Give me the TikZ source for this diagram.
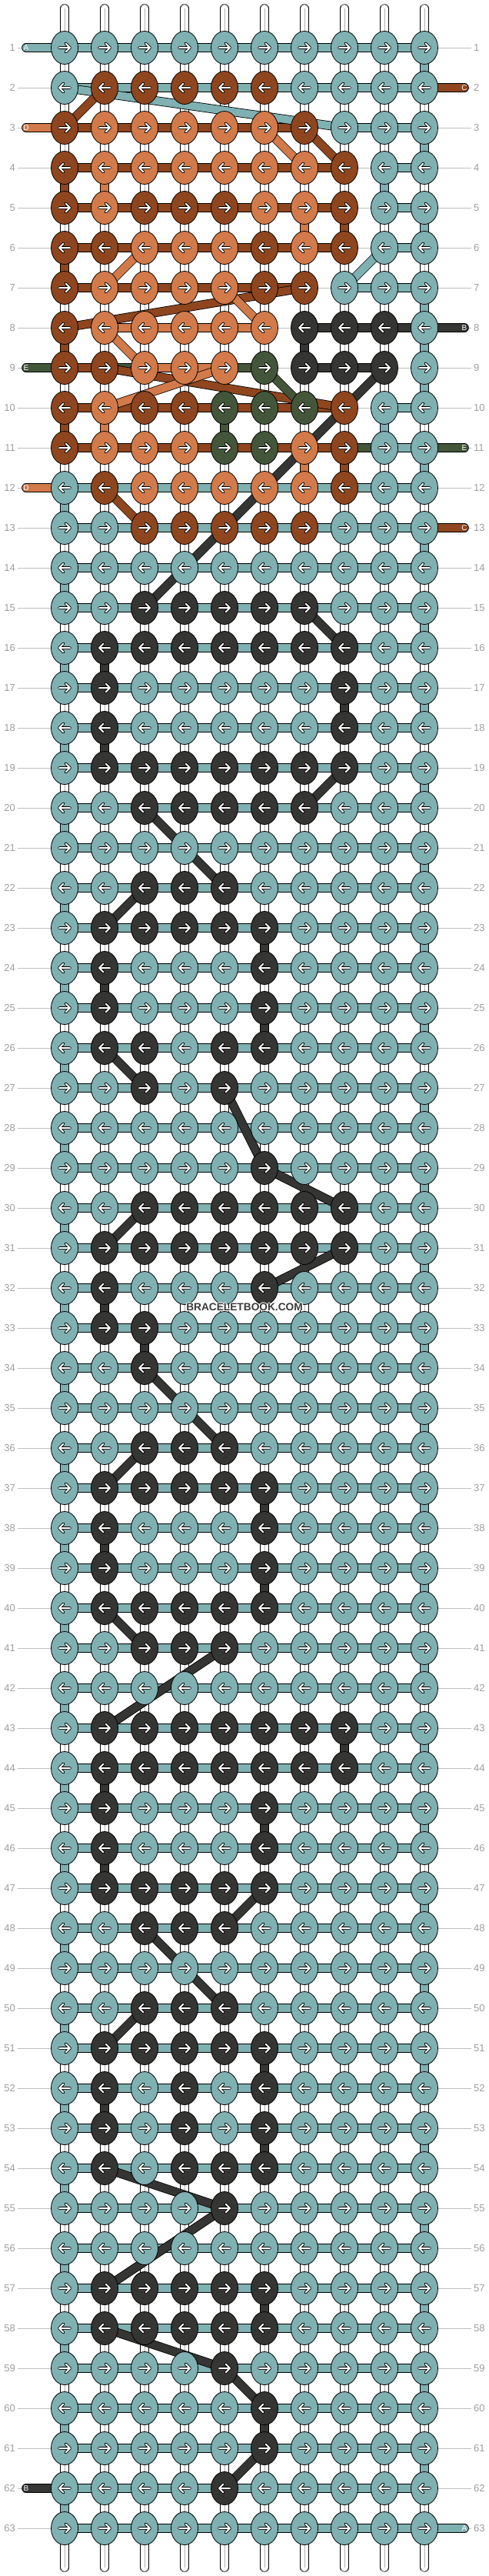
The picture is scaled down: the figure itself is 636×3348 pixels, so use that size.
\documentclass[tikz,border=0pt]{standalone}
\usepackage{fontspec}
\setmainfont{Liberation Sans}
\usetikzlibrary{shapes.geometric}
\pgfdeclarelayer{bg}
\pgfsetlayers{bg,main}
\definecolor{cT}{HTML}{7FB0B2}
\definecolor{cB}{HTML}{8F461F}
\definecolor{cO}{HTML}{D37A4A}
\definecolor{cK}{HTML}{353533}
\definecolor{cG}{HTML}{44563A}
\definecolor{wmc}{HTML}{3A3A3A}
\newcommand\wmhalo[1]{%
\makebox[0pt]{\hspace*{2.4pt}\textcolor{white}{#1}}%
\makebox[0pt]{\hspace*{-2.4pt}\textcolor{white}{#1}}%
\makebox[0pt]{\raisebox{1.2pt}{\textcolor{white}{#1}}}%
\makebox[0pt]{\raisebox{-1.2pt}{\textcolor{white}{#1}}}%
\makebox[0pt]{#1}}
\begin{document}
\begin{tikzpicture}[x=1pt,y=-1pt,
  knot/.style={ellipse, draw=black, line width=0.8pt, minimum width=35pt, minimum height=43pt, inner sep=0pt},
  thr/.style={draw=black, line width=0.8pt, double=#1, double distance=10pt},
  warp/.style={draw=black, line width=0.7pt, double=white, double distance=10pt},
  warpmid/.style={draw=black!30, line width=0.6pt},
  rowline/.style={draw=black!25, line width=0.8pt},
  lbl/.style={text=black!38, font=\fontsize{13}{13}\selectfont, inner sep=3pt},
  stublbl/.style={text=white, font=\fontsize{10}{10}\selectfont, inner sep=0pt},
  arw/.style={draw=black, line width=3.8pt, line cap=round, line join=round},
  arwin/.style={draw=white, line width=2pt, line cap=round, line join=round}]
\useasboundingbox (0,0) rectangle (636,3348);
% knots
\foreach \r/\row in {
1/{T,T,T,T,T,T,T,T,T,T},
2/{T,B,B,B,B,B,T,T,T,T},
3/{B,O,O,O,O,O,B,T,T,T},
4/{B,O,O,O,O,O,O,B,T,T},
5/{B,O,B,B,B,O,O,B,T,T},
6/{B,B,O,O,O,B,O,B,T,T},
7/{B,O,O,O,O,B,B,T,T,T},
8/{B,O,O,O,O,O,K,K,K,T},
9/{B,B,O,O,O,G,K,K,K,T},
10/{B,O,B,B,G,G,G,B,T,T},
11/{B,O,O,O,G,G,O,B,T,T},
12/{T,B,O,O,O,O,O,B,T,T},
13/{T,T,B,B,B,B,B,T,T,T},
14/{T,T,T,T,T,T,T,T,T,T},
15/{T,T,K,K,K,K,K,T,T,T},
16/{T,K,K,K,K,K,K,K,T,T},
17/{T,K,T,T,T,T,T,K,T,T},
18/{T,K,T,T,T,T,T,K,T,T},
19/{T,K,K,K,K,K,K,K,T,T},
20/{T,T,K,K,K,K,K,T,T,T},
21/{T,T,T,T,T,T,T,T,T,T},
22/{T,T,K,K,K,T,T,T,T,T},
23/{T,K,K,K,K,K,T,T,T,T},
24/{T,K,T,T,T,K,T,T,T,T},
25/{T,K,T,T,T,K,T,T,T,T},
26/{T,K,K,T,K,K,T,T,T,T},
27/{T,T,K,T,K,T,T,T,T,T},
28/{T,T,T,T,T,T,T,T,T,T},
29/{T,T,T,T,T,K,T,T,T,T},
30/{T,T,K,K,K,K,K,K,T,T},
31/{T,K,K,K,K,K,K,K,T,T},
32/{T,K,T,T,T,K,T,T,T,T},
33/{T,K,K,T,T,T,T,T,T,T},
34/{T,T,K,T,T,T,T,T,T,T},
35/{T,T,T,T,T,T,T,T,T,T},
36/{T,T,K,K,K,T,T,T,T,T},
37/{T,K,K,K,K,K,T,T,T,T},
38/{T,K,T,T,T,K,T,T,T,T},
39/{T,K,T,T,T,K,T,T,T,T},
40/{T,K,K,K,K,K,T,T,T,T},
41/{T,T,K,K,K,T,T,T,T,T},
42/{T,T,T,T,T,T,T,T,T,T},
43/{T,K,K,K,K,K,K,K,T,T},
44/{T,K,K,K,K,K,K,K,T,T},
45/{T,K,T,T,T,K,T,T,T,T},
46/{T,K,T,T,T,K,T,T,T,T},
47/{T,K,K,K,K,K,T,T,T,T},
48/{T,T,K,K,K,T,T,T,T,T},
49/{T,T,T,T,T,T,T,T,T,T},
50/{T,T,K,K,K,T,T,T,T,T},
51/{T,K,K,K,K,K,T,T,T,T},
52/{T,K,T,K,T,K,T,T,T,T},
53/{T,K,T,K,T,K,T,T,T,T},
54/{T,K,T,K,K,K,T,T,T,T},
55/{T,T,T,T,K,T,T,T,T,T},
56/{T,T,T,T,T,T,T,T,T,T},
57/{T,K,K,K,K,K,T,T,T,T},
58/{T,K,K,K,K,K,T,T,T,T},
59/{T,T,T,T,K,T,T,T,T,T},
60/{T,T,T,T,T,K,T,T,T,T},
61/{T,T,T,T,T,K,T,T,T,T},
62/{T,T,T,T,K,T,T,T,T,T},
63/{T,T,T,T,T,T,T,T,T,T}}{
  \foreach \k [count=\c] in \row {
    \pgfmathsetmacro\X{84+52*(\c-1)}
    \pgfmathsetmacro\Y{62+52*(\r-1)}
    \node[knot, fill=c\k] (k-\r-\c) at (\X,\Y) {};
    \ifodd\r\relax
      \draw[arw] (\X-7,\Y) -- (\X+7,\Y) (\X+1.5,\Y-5.5) -- (\X+7,\Y) -- (\X+1.5,\Y+5.5);
      \draw[arwin] (\X-7,\Y) -- (\X+7,\Y) (\X+1.5,\Y-5.5) -- (\X+7,\Y) -- (\X+1.5,\Y+5.5);
    \else
      \draw[arw] (\X+7,\Y) -- (\X-7,\Y) (\X-1.5,\Y-5.5) -- (\X-7,\Y) -- (\X-1.5,\Y+5.5);
      \draw[arwin] (\X+7,\Y) -- (\X-7,\Y) (\X-1.5,\Y-5.5) -- (\X-7,\Y) -- (\X-1.5,\Y+5.5);
    \fi
  }
}
% side stub labels
\node[stublbl] (sl-1) at (34,62) {A};
\node[stublbl] (sl-3) at (34,166) {D};
\node[stublbl] (sl-9) at (34,478) {E};
\node[stublbl] (sl-12) at (34,634) {D};
\node[stublbl] (sl-62) at (34,3234) {B};
\node[stublbl] (sr-2) at (604,114) {C};
\node[stublbl] (sr-8) at (604,426) {B};
\node[stublbl] (sr-11) at (604,582) {E};
\node[stublbl] (sr-13) at (604,686) {C};
\node[stublbl] (sr-63) at (604,3286) {A};
% watermark
\node[font=\bfseries\fontsize{13.7}{14}\selectfont, text=wmc, inner sep=0pt] (wm) at (318,1699) {\wmhalo{BRACELETBOOK.COM}};
\begin{pgfonlayer}{bg}
% row labels and rules
\foreach \r in {1,...,63}{
  \pgfmathsetmacro\Y{62+52*(\r-1)}
  \node[lbl, anchor=east] (rl-\r) at (23,\Y) {\r};
  \node[lbl, anchor=west] (rr-\r) at (613,\Y) {\r};
  \draw[rowline] (rl-\r.east) -- (rr-\r.west);
}
% white warp segments
\foreach \r in {1,...,62}{
  \pgfmathtruncatemacro\rr{\r+1}
  \foreach \c in {1,...,10}{
    \draw[warp] (k-\r-\c.center) -- (k-\rr-\c.center);
    \draw[warpmid] (k-\r-\c.center) -- (k-\rr-\c.center);
  }
}
% top and bottom ends
\foreach \c in {1,...,10}{
  \pgfmathsetmacro\X{84+52*(\c-1)}
  \coordinate (t-\c) at (\X,11);
  \coordinate (b-\c) at (\X,3337);
  \draw[warp, line cap=round] (t-\c) -- (k-1-\c.center);
  \draw[warpmid] (t-\c) -- (k-1-\c.center);
  \draw[warp, line cap=round] (b-\c) -- (k-63-\c.center);
  \draw[warpmid] (b-\c) -- (k-63-\c.center);
}
% horizontal bars, upper rows
\foreach \r/\bars in {
1/{T,T,T,T,T,T,T,T,T},
2/{T,T,T,T,T,T,T,T,T},
3/{B,B,B,B,B,B,N,T,T},
4/{B,B,B,B,B,B,B,N,T},
5/{B,B,B,B,B,B,B,N,T},
6/{B,B,B,B,B,B,B,N,T},
7/{B,B,B,B,B,B,N,T,T},
8/{N,O,O,O,O,N,K,K,K},
9/{B,G,O,O,G,N,K,K,N},
10/{B,B,B,B,B,B,B,N,T},
11/{B,B,B,B,B,B,B,G,T}}{
  \foreach \b [count=\c] in \bars {
    \pgfmathtruncatemacro\cc{\c+1}
    \if N\b\else\draw[thr=c\b] (k-\r-\c.center) -- (k-\r-\cc.center);\fi
  }
}
% horizontal bars, lower rows
\foreach \r in {12,...,63}{
  \foreach \c in {1,...,9}{
    \pgfmathtruncatemacro\cc{\c+1}
    \draw[thr=cT] (k-\r-\c.center) -- (k-\r-\cc.center);
  }
}
% coloured vertical turns
\foreach \r/\c/\k in {1/10/T,3/10/T,4/9/T,5/10/T,7/10/T,8/10/T,9/10/T,10/9/T,11/10/T,
  4/1/B,5/8/B,6/1/B,8/1/B,10/1/B,11/8/B,
  4/2/O,5/7/O,10/2/O,11/7/O,
  10/5/G,
  8/7/K,16/2/K,17/8/K,18/2/K,23/6/K,24/2/K,25/6/K,32/2/K,33/3/K,37/6/K,38/2/K,39/6/K,
  43/8/K,44/2/K,45/6/K,46/2/K,51/6/K,52/2/K,53/6/K,57/6/K,60/6/K}{
  \pgfmathtruncatemacro\rr{\r+1}
  \draw[thr=c\k] (k-\r-\c.center) -- (k-\rr-\c.center);
}
\foreach \r in {12,...,62}{
  \pgfmathtruncatemacro\rr{\r+1}
  \ifodd\r\relax
    \draw[thr=cT] (k-\r-10.center) -- (k-\rr-10.center);
  \else
    \draw[thr=cT] (k-\r-1.center) -- (k-\rr-1.center);
  \fi
}
% side stubs
\draw[thr=cT, line cap=round] (k-1-1.center) -- (sl-1.center);
\draw[thr=cO, line cap=round] (k-3-1.center) -- (sl-3.center);
\draw[thr=cG, line cap=round] (k-9-1.center) -- (sl-9.center);
\draw[thr=cO, line cap=round] (k-12-1.center) -- (sl-12.center);
\draw[thr=cK, line cap=round] (k-62-1.center) -- (sl-62.center);
\draw[thr=cB, line cap=round] (k-2-10.center) -- (sr-2.center);
\draw[thr=cK, line cap=round] (k-8-10.center) -- (sr-8.center);
\draw[thr=cG, line cap=round] (k-11-10.center) -- (sr-11.center);
\draw[thr=cB, line cap=round] (k-13-10.center) -- (sr-13.center);
\draw[thr=cT, line cap=round] (k-63-10.center) -- (sr-63.center);
% diagonals
\foreach \ra/\ca/\rb/\cb/\k in {2/1/3/8/T,6/9/7/8/T,
  2/2/3/1/B,3/7/4/8/B,7/7/8/1/B,9/2/10/8/B,12/2/13/3/B,
  3/6/4/7/O,6/3/7/2/O,7/5/8/6/O,8/2/9/3/O,9/5/10/2/O,
  9/6/10/7/G,
  9/9/15/3/K,15/7/16/8/K,19/8/20/7/K,20/3/22/5/K,22/3/23/2/K,26/2/27/3/K,27/5/29/6/K,
  29/6/30/8/K,30/3/31/2/K,31/8/32/6/K,34/3/36/5/K,36/3/37/2/K,40/2/41/3/K,41/5/43/2/K,
  47/6/48/5/K,48/3/50/5/K,50/3/51/2/K,54/2/55/5/K,55/5/57/2/K,58/2/59/5/K,59/5/60/6/K,
  61/6/62/5/K}{
  \draw[thr=c\k] (k-\ra-\ca.center) -- (k-\rb-\cb.center);
}
\end{pgfonlayer}
\end{tikzpicture}
\end{document}
